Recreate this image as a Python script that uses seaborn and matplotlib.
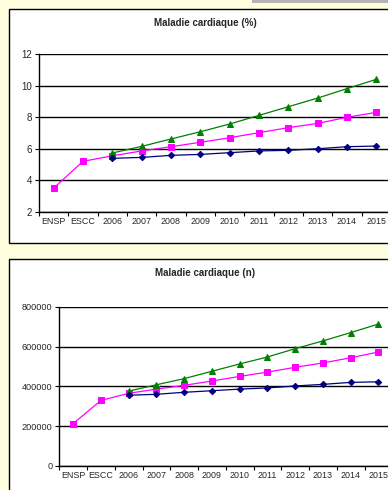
import numpy as np
import pandas as pd
import matplotlib
matplotlib.use("Agg")
import matplotlib.pyplot as plt
import seaborn as sns
from matplotlib.patches import Rectangle

# categories along the x axis
categories = ["ENSP", "ESCC", "2006", "2007", "2008", "2009", "2010",
              "2011", "2012", "2013", "2014", "2015"]

# Maladie cardiaque (%)
pct_pink = [3.5, 5.2, 5.55, 5.86, 6.13, 6.41, 6.70, 7.02, 7.34, 7.61, 8.0, 8.31]
pct_green = [np.nan, np.nan, 5.73, 6.15, 6.62, 7.08, 7.57, 8.12, 8.67, 9.22, 9.82, 10.41]
pct_blue = [np.nan, np.nan, 5.39, 5.45, 5.58, 5.64, 5.75, 5.86, 5.90, 6.0, 6.13, 6.17]

# Maladie cardiaque (n)
n_pink = [212000, 329000, 365000, 386000, 405000, 427000, 450000, 472000,
          496000, 518000, 544000, 573000]
n_green = [np.nan, np.nan, 376000, 408000, 439000, 476000, 513000, 548000,
           590000, 629000, 671000, 714000]
n_blue = [np.nan, np.nan, 355000, 360000, 370000, 378000, 386000, 392000,
          402000, 410000, 420000, 423000]

BG = "#FFFFE0"
W, H = 388, 490

sns.set_style("white")
plt.rcParams["font.family"] = ["Liberation Sans", "DejaVu Sans"]

fig = plt.figure(figsize=(W / 100, H / 100), dpi=100)
fig.patch.set_facecolor(BG)


def px_rect(x0, y0, x1, y1, **kw):
    return Rectangle((x0 / W, 1 - y1 / H), (x1 - x0) / W, (y1 - y0) / H,
                     transform=fig.transFigure, zorder=-5, **kw)


# grey strip in the top right corner
fig.patches.append(px_rect(252, 0, 400, 3, facecolor="#B4B4B4", edgecolor="none"))
# white chart frames
fig.patches.append(px_rect(9, 9, 420, 243, facecolor="white", edgecolor="black", linewidth=1.0))
fig.patches.append(px_rect(9, 259, 420, 520, facecolor="white", edgecolor="black", linewidth=1.0))


def draw_chart(ax, series, title, yticks, ylim, ylabel_size, title_y):
    pos = np.arange(len(categories)) + 0.5
    styles = [("#FF00FF", "s", 3.8), ("#008000", "^", 4.6), ("#000080", "D", 3.2)]
    for vals, (col, mk, ms) in zip(series, styles):
        df = pd.DataFrame({"x": pos, "y": vals}).dropna()
        sns.lineplot(data=df, x="x", y="y", ax=ax, color=col, marker=mk,
                     markersize=ms, markeredgecolor=col, linewidth=0.9,
                     clip_on=False, zorder=3)
    ax.set_facecolor("white")
    ax.set_xlim(0, len(categories))
    ax.set_ylim(*ylim)
    ax.set_yticks(yticks)
    ax.set_yticklabels([str(v) for v in yticks], fontsize=ylabel_size)
    ax.set_xticks(np.arange(len(categories) + 1))
    ax.set_xticklabels([])
    ax.set_xticks(pos, minor=True)
    ax.set_xticklabels(categories, minor=True, fontsize=6.4,
                       family=["Liberation Sans Narrow", "Liberation Sans"])
    ax.tick_params(axis="x", which="major", direction="out", length=3,
                   width=0.8, color="black", bottom=True)
    ax.tick_params(axis="x", which="minor", length=0, pad=4, bottom=True)
    ax.tick_params(axis="y", direction="out", length=3, width=0.8,
                   color="black", left=True, pad=2)
    ax.grid(axis="y", color="black", linewidth=1.0)
    ax.grid(axis="x", visible=False)
    for s in ["top", "right"]:
        ax.spines[s].set_visible(False)
    for s in ["left", "bottom"]:
        ax.spines[s].set_color("black")
        ax.spines[s].set_linewidth(1.0)
    ax.set_xlabel("")
    ax.set_ylabel("")
    fig.text(205 / W, 1 - title_y / H, title, ha="center", va="center",
             fontsize=7, fontweight="bold")


ax1 = fig.add_axes([39 / W, 1 - 211.7 / H, 352 / W, 157.4 / H])
draw_chart(ax1, [pct_pink, pct_green, pct_blue], "Maladie cardiaque (%)",
           [2, 4, 6, 8, 10, 12], (2, 12), 7, 23)

ax2 = fig.add_axes([59.3 / W, 1 - 465.7 / H, 333 / W, 158.7 / H])
draw_chart(ax2, [n_pink, n_green, n_blue], "Maladie cardiaque (n)",
           [0, 200000, 400000, 600000, 800000], (0, 800000), 6.6, 273)

fig.savefig("out.png", dpi=100, facecolor=BG)
